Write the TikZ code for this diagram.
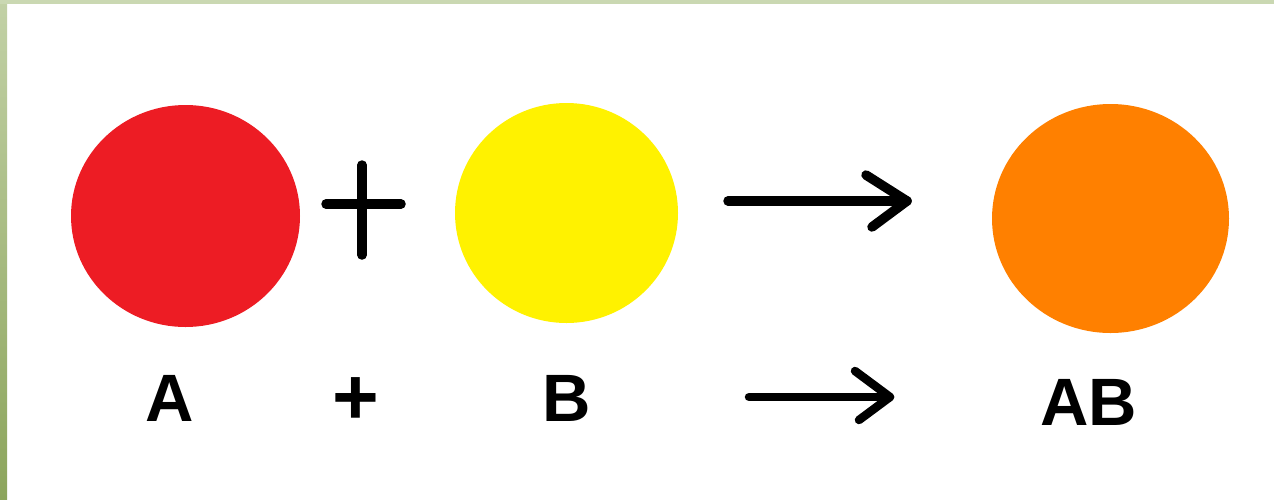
\documentclass[tikz,border=0pt]{standalone}
\usepackage{fontspec}
\setmainfont{Liberation Sans}
\usetikzlibrary{shapes.geometric}
\definecolor{pred}{HTML}{ED1C24}
\definecolor{pyellow}{HTML}{FFF200}
\definecolor{porange}{HTML}{FF8000}
\definecolor{bandtop}{HTML}{CAD8B2}
\definecolor{bandleftA}{HTML}{C2D1A6}
\definecolor{bandleftB}{HTML}{8CA55C}
\tikzset{
  ball/.style={ellipse, draw=none, inner sep=0pt},
  lbl/.style={font=\fontsize{67}{67}\selectfont\bfseries, inner sep=0pt, anchor=base},
  plusbig/.style={font=\fontsize{80}{80}\selectfont\bfseries, inner sep=0pt},
  stroke/.style={line width=9.5pt, line cap=round, line join=round, black}
}
\begin{document}
\begin{tikzpicture}[x=1pt,y=-1pt]
\useasboundingbox (0,0) rectangle (1274,499);
\fill[white] (0,0) rectangle (1274,499);
\shade[top color=bandleftA, bottom color=bandleftB] (0,0) rectangle (7,499);
\fill[bandtop] (0,0) rectangle (1274,4);
% circles
\node[ball, fill=pred, minimum width=229pt, minimum height=222pt] (A) at (185.5,216) {};
\node[ball, fill=pyellow, minimum width=223pt, minimum height=220pt] (B) at (566.5,213) {};
\node[ball, fill=porange, minimum width=237pt, minimum height=229pt] (AB) at (1110.5,218.5) {};
% big plus
\coordinate (pl) at (326,204);
\coordinate (pr) at (401,204);
\coordinate (pt) at (362,165);
\coordinate (pb) at (362,255);
\draw[stroke] (pl) -- (pr);
\draw[stroke] (pt) -- (pb);
% top arrow
\coordinate (s1) at (728,201);
\coordinate (t1) at (907,201);
\coordinate (h1a) at (866,175);
\coordinate (h1b) at (872,227);
\draw[stroke] (s1) -- (t1);
\draw[stroke] (h1a) -- (t1) -- (h1b);
% labels
\node[lbl] (la) at (170,421) {A};
\node[plusbig] (lp) at (356,401) {+};
\node[lbl] (lb) at (567,421) {B};
\node[lbl] (lab) at (1088.5,425) {AB};
% bottom arrow
\coordinate (s2) at (749,397);
\coordinate (t2) at (890,397);
\coordinate (h2a) at (855,371);
\coordinate (h2b) at (859,420);
\draw[stroke, line width=8.5pt] (s2) -- (t2);
\draw[stroke, line width=8.5pt] (h2a) -- (t2) -- (h2b);
\end{tikzpicture}
\end{document}
